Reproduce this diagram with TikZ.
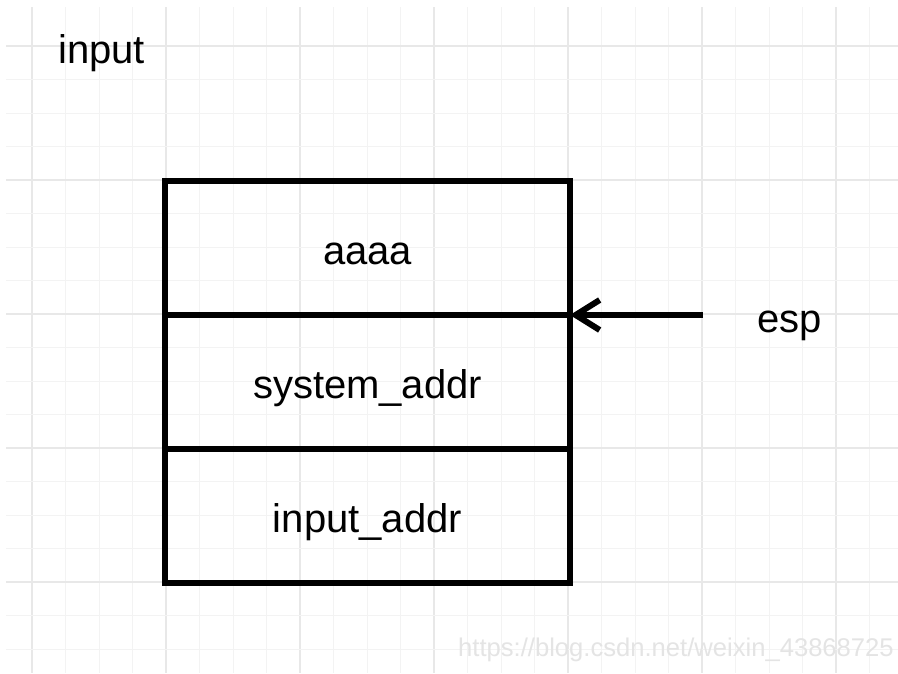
\documentclass[tikz,border=0pt]{standalone}
\usepackage{fontspec}
\setmainfont{Liberation Sans}
\usepackage{xcolor}
\usetikzlibrary{positioning,arrows.meta}
\definecolor{STKgridMinor}{HTML}{F3F3F3}
\definecolor{STKgridMajor}{HTML}{E8E8E8}
\definecolor{STKmark}{HTML}{E4E4E4}
\tikzset{
  stackcell/.style={draw=black, line width=6pt, outer sep=0pt, minimum width=405pt, minimum height=134pt, inner sep=0pt, text height=33pt, text depth=0pt, font=\fontsize{40}{48}\selectfont, text=black},
  plainlabel/.style={inner sep=0pt, font=\fontsize{40}{48}\selectfont, text=black},
  ptrarr/.style={-{Straight Barb[length=24pt, width=30pt, line width=6pt]}, line width=6pt, draw=black},
  gridminor/.style={draw=STKgridMinor, line width=1pt},
  gridmajor/.style={draw=STKgridMajor, line width=1.2pt}
}
\begin{document}
\begin{tikzpicture}[x=1pt, y=-1pt]
      \useasboundingbox (0,0) rectangle (898,673);
      \fill[white] (0,0) rectangle (898,673);
      % background grid
      \foreach \k in {0,...,25} {
        \pgfmathsetmacro{\gx}{32+33.5*\k}
        \pgfmathtruncatemacro{\gm}{mod(\k,4)}
        \ifnum\gm=0 \draw[gridmajor] (\gx,7) -- (\gx,673); \else \draw[gridminor] (\gx,7) -- (\gx,673); \fi
      }
      \foreach \k in {0,...,18} {
        \pgfmathsetmacro{\gy}{46+33.5*\k}
        \pgfmathtruncatemacro{\gm}{mod(\k,4)}
        \ifnum\gm=0 \draw[gridmajor] (6,\gy) -- (898,\gy); \else \draw[gridminor] (6,\gy) -- (898,\gy); \fi
      }
      % stack
      \node[stackcell] (aaaa) at (367.5,248) {aaaa};
      \node[stackcell] (sysaddr) at (367.5,382) {system\_addr};
      \node[stackcell] (inaddr) at (367.5,516) {input\_addr};
      \node[plainlabel, anchor=base west] (input) at (58,63) {input};
      \node[plainlabel, anchor=base west] (esp) at (757,332) {esp};
      \coordinate (esptail) at (703,315);
      \draw[ptrarr] (esptail) -- (aaaa.south east);
      \node[inner sep=0pt, anchor=base west, font=\fontsize{25.6}{30}\selectfont, text=STKmark] (mark) at (458,656) {https://blog.csdn.net/weixin\_43868725};
    \end{tikzpicture}
\end{document}
